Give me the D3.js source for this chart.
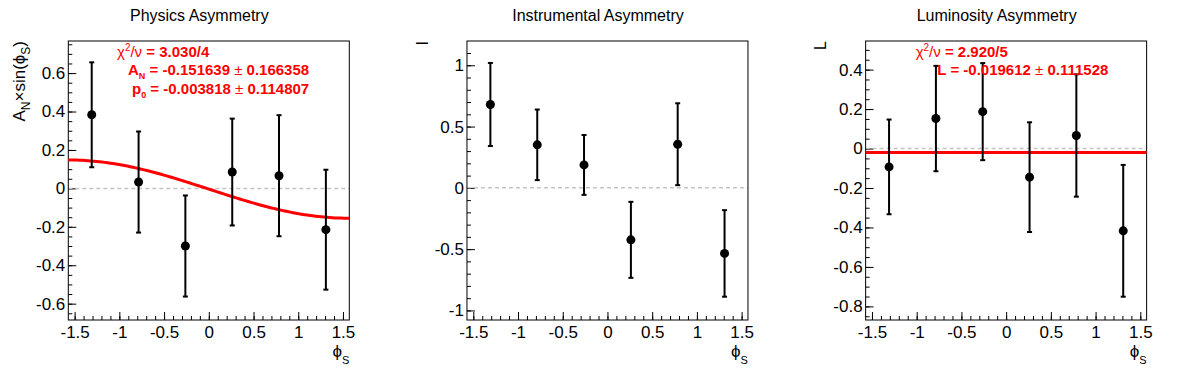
<!DOCTYPE html>
<html lang="en">
<head>
<meta charset="UTF-8">
<title>Asymmetries</title>
<style>
body { margin: 0; background: #fff; }
svg { display: block; font-family: "Liberation Sans", Arial, sans-serif; }
.tick text { font-size: 17px; fill: #000; font-family: "Liberation Sans", Arial, sans-serif; }
.title { font-size: 16px; }
.fit { fill: #ff0000; font-size: 15px; }
</style>
</head>
<body>
<svg id="chart"></svg>
<script src="https://d3js.org/d3.v7.min.js"></script>
<script>
// bin centres in phi_S
const binCenters = [-1.309, -0.785, -0.262, 0.262, 0.785, 1.309];

// physics asymmetry A_N x sin(phi_S)
const physVals = [0.383, 0.033, -0.300, 0.085, 0.066, -0.215];
const physErrs = [0.273, 0.263, 0.263, 0.278, 0.315, 0.312];

// instrumental asymmetry
const instVals = [0.680, 0.351, 0.187, -0.424, 0.356, -0.535];
const instErrs = [0.339, 0.288, 0.244, 0.310, 0.334, 0.353];

// luminosity asymmetry
const lumiVals = [-0.093, 0.152, 0.187, -0.145, 0.066, -0.417];
const lumiErrs = [0.240, 0.267, 0.246, 0.278, 0.310, 0.334];

// fit results
const fitAN = -0.151639, fitP0 = -0.003818;
const fitL = -0.019612;

const titles = ["Physics Asymmetry", "Instrumental Asymmetry", "Luminosity Asymmetry"];
const xMajor = [-1.5, -1, -0.5, 0, 0.5, 1, 1.5];

const W = 1196, H = 372;
const padW = W / 3;
const svg = d3.select("#chart").attr("width", W).attr("height", H);

const panels = [
    { vals: physVals, errs: physErrs, ydom: [-0.685, 0.767], ystep: 0.2, yminor: 0.05 },
    { vals: instVals, errs: instErrs, ydom: [-1.078, 1.198], ystep: 0.5, yminor: 0.1 },
    { vals: lumiVals, errs: lumiErrs, ydom: [-0.869, 0.545], ystep: 0.2, yminor: 0.05 }
];

const frameW = 281, frameTop = 41, frameH = 279;

function stepTicks(dom, step) {
    const out = [];
    const start = Math.ceil(dom[0] / step - 1e-9);
    const end = Math.floor(dom[1] / step + 1e-9);
    for (let i = start; i <= end; i++) out.push(+(i * step).toFixed(4));
    return out;
}

panels.forEach((p, i) => {
    const left = 68.3 + i * padW;
    const g = svg.append("g").attr("transform", `translate(${left},${frameTop})`);

    const x = d3.scaleLinear().domain([-Math.PI / 2, Math.PI / 2]).range([0, frameW]);
    const y = d3.scaleLinear().domain(p.ydom).range([frameH, 0]);

    // title
    svg.append("text").attr("class", "title")
        .attr("x", padW / 2 + i * padW).attr("y", 20.5)
        .attr("text-anchor", "middle").text(titles[i]);

    // minor ticks
    g.append("g").attr("transform", `translate(0,${frameH})`)
        .call(d3.axisBottom(x).tickValues(stepTicks([-1.5, 1.5], 0.1)).tickSize(-4).tickFormat(""))
        .call(a => a.select(".domain").remove());
    g.append("g")
        .call(d3.axisLeft(y).tickValues(stepTicks(p.ydom, p.yminor)).tickSize(-4).tickFormat(""))
        .call(a => a.select(".domain").remove());

    // major ticks
    g.append("g").attr("transform", `translate(0,${frameH})`)
        .call(d3.axisBottom(x).tickValues(xMajor).tickSizeInner(-8).tickSizeOuter(0)
            .tickFormat(d => String(d)))
        .call(a => a.select(".domain").remove())
        .call(a => a.selectAll("text").attr("dy", null).attr("y", 18));
    g.append("g")
        .call(d3.axisLeft(y).tickValues(stepTicks(p.ydom, p.ystep)).tickSizeInner(-8).tickSizeOuter(0)
            .tickFormat(d => String(d)))
        .call(a => a.select(".domain").remove())
        .call(a => a.selectAll("text").attr("x", -3));

    // zero line
    g.append("line")
        .attr("x1", 0).attr("x2", frameW).attr("y1", y(0)).attr("y2", y(0))
        .attr("stroke", "#c4c4c4").attr("stroke-width", 1.5).attr("stroke-dasharray", "4,3");

    // frame
    g.append("rect").attr("width", frameW).attr("height", frameH)
        .attr("fill", "none").attr("stroke", "#000").attr("stroke-width", 1);

    // fits
    if (i === 0) {
        const xs = d3.range(0, 101).map(k => -Math.PI / 2 + k * Math.PI / 100);
        g.append("path")
            .datum(xs)
            .attr("fill", "none").attr("stroke", "#ff0000").attr("stroke-width", 3)
            .attr("d", d3.line().x(d => x(d)).y(d => y(fitP0 + fitAN * Math.sin(d))));
    }
    if (i === 2) {
        g.append("line")
            .attr("x1", 0).attr("x2", frameW).attr("y1", y(fitL)).attr("y2", y(fitL))
            .attr("stroke", "#ff0000").attr("stroke-width", 3);
    }

    // error bars
    const pts = binCenters.map((c, k) => ({ x: c, v: p.vals[k], e: p.errs[k] }));
    const eb = g.append("g").attr("stroke", "#000").attr("stroke-width", 2);
    eb.selectAll(".bar").data(pts).enter().append("line")
        .attr("x1", d => x(d.x)).attr("x2", d => x(d.x))
        .attr("y1", d => y(d.v + d.e)).attr("y2", d => y(d.v - d.e));
    eb.selectAll(".capt").data(pts).enter().append("line")
        .attr("x1", d => x(d.x) - 2.5).attr("x2", d => x(d.x) + 2.5)
        .attr("y1", d => y(d.v + d.e)).attr("y2", d => y(d.v + d.e));
    eb.selectAll(".capb").data(pts).enter().append("line")
        .attr("x1", d => x(d.x) - 2.5).attr("x2", d => x(d.x) + 2.5)
        .attr("y1", d => y(d.v - d.e)).attr("y2", d => y(d.v - d.e));
    g.append("g").selectAll("circle").data(pts).enter().append("circle")
        .attr("cx", d => x(d.x)).attr("cy", d => y(d.v)).attr("r", 4.5).attr("fill", "#000");

    // x axis title
    const xt = g.append("text").attr("x", frameW).attr("y", 316)
        .attr("text-anchor", "end").attr("font-size", 17);
    xt.append("tspan").text("\u03d5");
    xt.append("tspan").attr("dy", 7).attr("font-size", 11).text("S");
});

// y axis titles
const yt1 = svg.append("text").attr("transform", "translate(24.5,41) rotate(-90)")
    .attr("text-anchor", "end").attr("font-size", 17);
yt1.append("tspan").text("A");
yt1.append("tspan").attr("dy", 5).attr("font-size", 12).text("N");
yt1.append("tspan").attr("dy", -5).text("\u00d7sin(\u03d5");
yt1.append("tspan").attr("dy", 5).attr("font-size", 12).text("S");
yt1.append("tspan").attr("dy", -5).text(")");

svg.append("text").attr("transform", `translate(${padW + 29},41) rotate(-90)`)
    .attr("text-anchor", "end").attr("font-size", 16).text("I");
svg.append("text").attr("transform", `translate(${2 * padW + 29},41) rotate(-90)`)
    .attr("text-anchor", "end").attr("font-size", 16).text("L");

// fit statistics text, one line each, left edge as in the picture
function chiLine(t, rest) {
    t.append("tspan").text("\u03c7");
    t.append("tspan").attr("dy", -6).attr("font-size", 10).text("2");
    t.append("tspan").attr("dy", 6).text("/\u03bd ");
    t.append("tspan").attr("font-weight", "bold").text("= " + rest);
}
function parLine(t, main, sub, v, e) {
    t.append("tspan").attr("font-weight", "bold").text(main);
    if (sub) {
        t.append("tspan").attr("font-weight", "bold").attr("dy", 4).attr("font-size", 9).text(sub);
        t.append("tspan").attr("font-weight", "bold").attr("dy", -4).text(" = " + v + " ");
    } else {
        t.append("tspan").attr("font-weight", "bold").text(" = " + v + " ");
    }
    t.append("tspan").text("\u00b1");
    t.append("tspan").attr("font-weight", "bold").text(" " + e);
}
function fitText(px, by) {
    return svg.append("text").attr("class", "fit").attr("x", px).attr("y", by);
}

const f1 = 68.3, f3 = 68.3 + 2 * padW;
chiLine(fitText(f1 + 48.7, 56.5), "3.030/4");
parLine(fitText(f1 + 59.7, 75), "A", "N", "-0.151639", "0.166358");
parLine(fitText(f1 + 63.7, 93.5), "p", "0", "-0.003818", "0.114807");

chiLine(fitText(f3 + 50, 56.5), "2.920/5");
parLine(fitText(f3 + 71.7, 75), "L", null, "-0.019612", "0.111528");
</script>
</body>
</html>
